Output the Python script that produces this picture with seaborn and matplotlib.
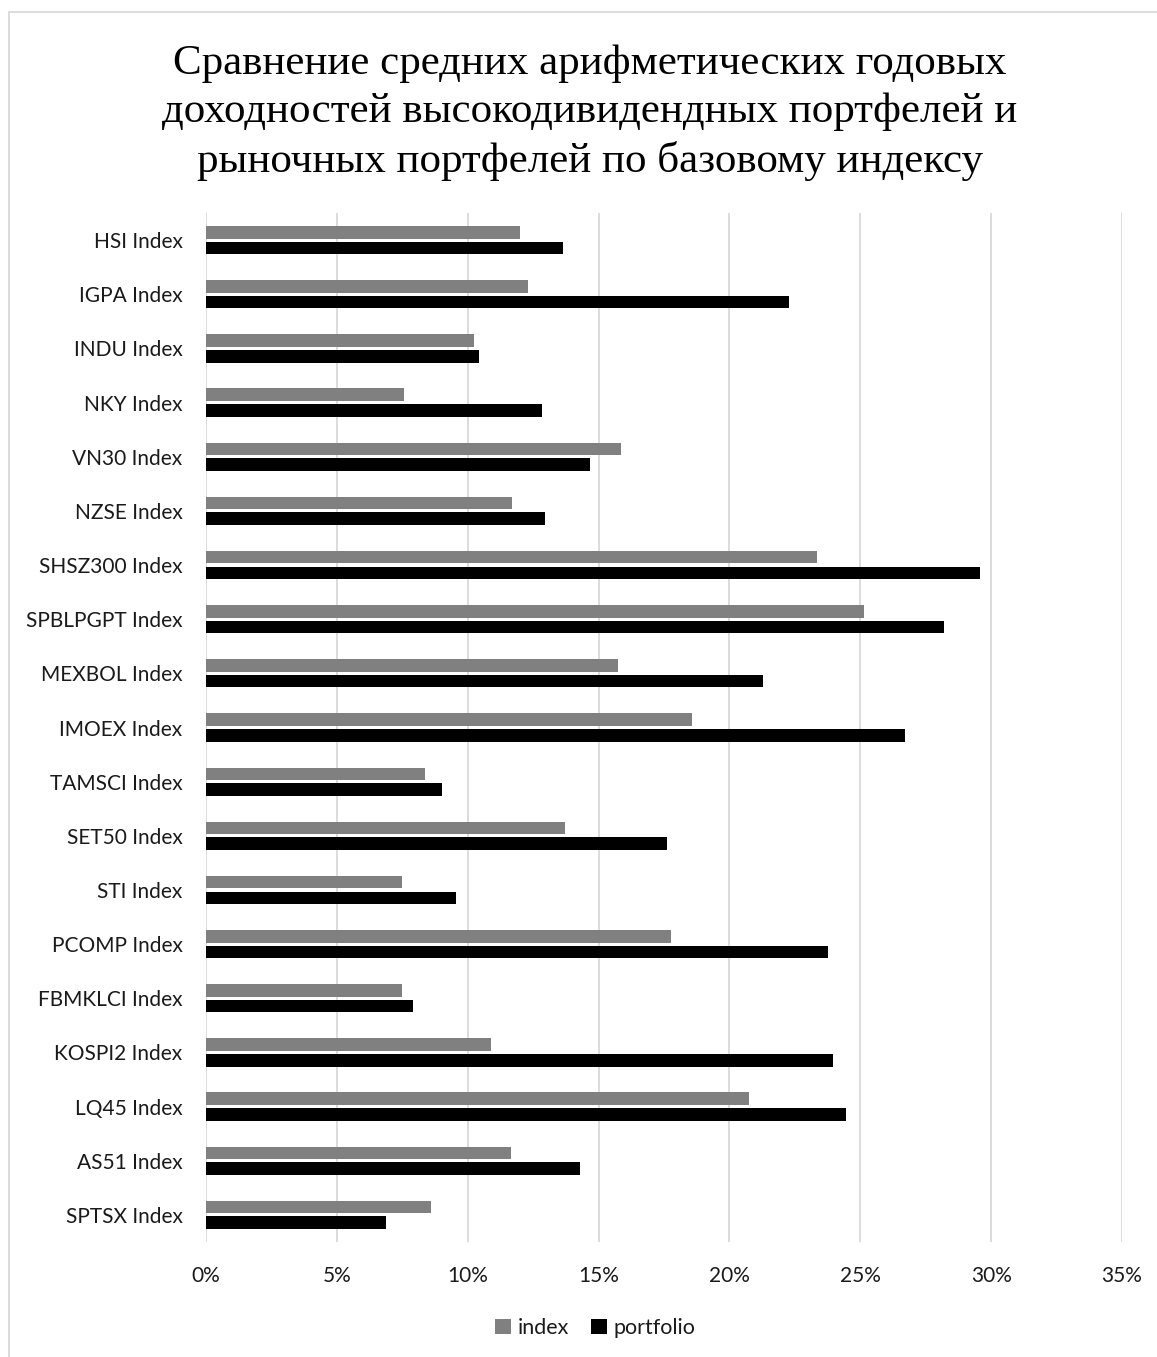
import matplotlib
matplotlib.use("Agg")
import matplotlib.pyplot as plt
from matplotlib.patches import Patch
from matplotlib.lines import Line2D
from matplotlib.ticker import FuncFormatter
import pandas as pd
import seaborn as sns

# Arithmetic mean annual returns, %
indices = [
    "HSI Index", "IGPA Index", "INDU Index", "NKY Index", "VN30 Index",
    "NZSE Index", "SHSZ300 Index", "SPBLPGPT Index", "MEXBOL Index",
    "IMOEX Index", "TAMSCI Index", "SET50 Index", "STI Index",
    "PCOMP Index", "FBMKLCI Index", "KOSPI2 Index", "LQ45 Index",
    "AS51 Index", "SPTSX Index",
]
index_returns = [
    11.99, 12.30, 10.24, 7.58, 15.85, 11.71, 23.35, 25.15, 15.75,
    18.58, 8.37, 13.73, 7.50, 17.78, 7.50, 10.90, 20.74, 11.67, 8.59,
]
portfolio_returns = [
    13.63, 22.28, 10.44, 12.84, 14.68, 12.94, 29.57, 28.21, 21.29,
    26.70, 9.00, 17.62, 9.54, 23.76, 7.92, 23.95, 24.46, 14.28, 6.88,
]
series_names = ["index", "portfolio"]
series_colors = ["#808080", "#000000"]
x_ticks = [0, 5, 10, 15, 20, 25, 30, 35]

title = ("Сравнение средних арифметических годовых\n"
         "доходностей высокодивидендных портфелей и\n"
         "рыночных портфелей по базовому индексу")

df = pd.DataFrame({
    "name": indices * 2,
    "value": index_returns + portfolio_returns,
    "series": [series_names[0]] * len(indices) + [series_names[1]] * len(indices),
})

sns.set_theme(style="white")
plt.rcParams["font.family"] = ["Lato", "DejaVu Sans"]

W, H = 1157, 1357
fig = plt.figure(figsize=(W / 100, H / 100), dpi=100)
fig.patch.set_facecolor("white")

ax = fig.add_axes([206 / W, 1 - 1242 / H, (1122 - 206) / W, (1242 - 213) / H])
sns.barplot(
    data=df, y="name", x="value", hue="series", orient="h",
    palette=series_colors, hue_order=series_names, order=indices,
    width=0.58, gap=0.2, ax=ax, legend=False, linewidth=0,
)

ax.set_xlim(0, 35)
ax.set_xticks(x_ticks)
ax.xaxis.set_major_formatter(FuncFormatter(lambda v, p: f"{v:.0f}%"))
ax.grid(axis="x", color="#d9d9d9", linewidth=1.3)
ax.grid(axis="y", visible=False)
ax.set_axisbelow(True)
for s in ax.spines.values():
    s.set_visible(False)
ax.set_xlabel("")
ax.set_ylabel("")
ax.tick_params(axis="x", length=0, pad=17, labelsize=15, labelcolor="#1a1a1a")
ax.tick_params(axis="y", length=0, pad=17, labelsize=15, labelcolor="#1a1a1a")

fig.text(590 / W, 1 - 113 / H, title, ha="center", va="center",
         fontsize=31, family="Liberation Serif", linespacing=1.33, color="black")

handles = [Patch(facecolor=c, edgecolor="none", label=n)
           for c, n in zip(series_colors, series_names)]
fig.legend(handles=handles, loc="center", bbox_to_anchor=(595 / W, 1 - 1328 / H),
           ncol=2, frameon=False, fontsize=15.5, handlelength=0.75, handleheight=0.75,
           handletextpad=0.3, columnspacing=1.0, labelcolor="#1a1a1a")

# chart-area frame
fig.add_artist(Line2D([9 / W, 9 / W], [0, 1 - 12 / H], transform=fig.transFigure,
                      color="#d9d9d9", linewidth=1.3))
fig.add_artist(Line2D([9 / W, 1], [1 - 12 / H, 1 - 12 / H], transform=fig.transFigure,
                      color="#d9d9d9", linewidth=1.3))

fig.savefig("out.png", dpi=100, facecolor="white")
